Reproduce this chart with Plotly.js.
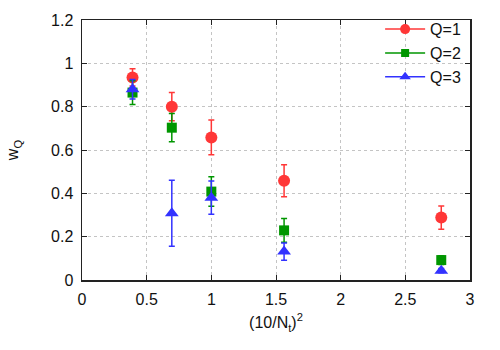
<!DOCTYPE html>
<html>
<head>
<meta charset="utf-8">
<script src="https://cdn.plot.ly/plotly-3.0.1.min.js"></script>
<style>
  body { margin: 0; background: #fff; }
  #plot { width: 500px; height: 350px; }
</style>
</head>
<body>
<div id="plot"></div>
<script>
// datos
const xs = [0.3906, 0.6944, 1.0, 1.5625, 2.7778];

const q1 = [0.935, 0.80, 0.658, 0.458, 0.288];
const q1_err = [0.04, 0.065, 0.08, 0.074, 0.054];

const q2 = [0.865, 0.703, 0.408, 0.229, 0.092];
const q2_err = [0.055, 0.065, 0.068, 0.055, 0.02];

const q3 = [0.88, 0.308, 0.38, 0.131, 0.043];
const q3_err = [0.045, 0.152, 0.077, 0.04, 0.01];

const names = ["Q=1", "Q=2", "Q=3"];
const colors = ["rgb(255,55,55)", "rgb(0,150,0)", "rgb(50,50,255)"];
const symbols = ["circle", "square", "triangle-up"];
const sizes = [12, 10, 12];

function serie(y, err, i) {
  return {
    x: xs,
    y: y,
    type: "scatter",
    mode: "markers",
    name: names[i],
    showlegend: false,
    marker: { color: colors[i], symbol: symbols[i], size: sizes[i] },
    error_y: { type: "data", array: err, visible: true, color: colors[i], thickness: 1.5, width: 3 }
  };
}

// trazas solo para la leyenda
function leyenda(i) {
  return {
    x: [null],
    y: [null],
    type: "scatter",
    mode: "lines+markers",
    name: names[i],
    line: { color: colors[i], width: 1.5 },
    marker: { color: colors[i], symbol: symbols[i], size: sizes[i] - 2 }
  };
}

const data = [
  serie(q1, q1_err, 0), serie(q2, q2_err, 1), serie(q3, q3_err, 2),
  leyenda(0), leyenda(1), leyenda(2)
];

const ejeComun = {
  showline: true,
  linecolor: "#222",
  linewidth: 1.5,
  mirror: "ticks",
  ticks: "inside",
  ticklen: 5,
  tickcolor: "#222",
  showgrid: true,
  gridcolor: "#c4c4c4",
  griddash: "dot",
  gridwidth: 1,
  zeroline: false,
  tickfont: { size: 16, color: "#111" }
};

const layout = {
  width: 500,
  height: 350,
  margin: { l: 82, r: 30, t: 20, b: 70 },
  paper_bgcolor: "#fff",
  plot_bgcolor: "#fff",
  font: { family: "Liberation Sans, Arial, sans-serif", color: "#111" },
  xaxis: Object.assign({}, ejeComun, {
    range: [0, 3],
    dtick: 0.5,
    ticklabelstandoff: 4,
    title: { text: "(10/N<sub>t</sub>)<sup>2</sup>", font: { size: 16 }, standoff: 10 }
  }),
  yaxis: Object.assign({}, ejeComun, {
    range: [0, 1.2],
    dtick: 0.2,
    ticklabelstandoff: 4,
    title: { text: "w<sub>Q</sub>", font: { size: 16 }, standoff: 28 }
  }),
  legend: {
    x: 0.99, y: 1.03, xanchor: "right", yanchor: "top",
    bgcolor: "rgba(255,255,255,0)",
    font: { size: 16 },
    tracegroupgap: 0,
    itemwidth: 40
  },
  showlegend: true
};

Plotly.newPlot("plot", data, layout, { displayModeBar: false, staticPlot: true });
</script>
</body>
</html>
